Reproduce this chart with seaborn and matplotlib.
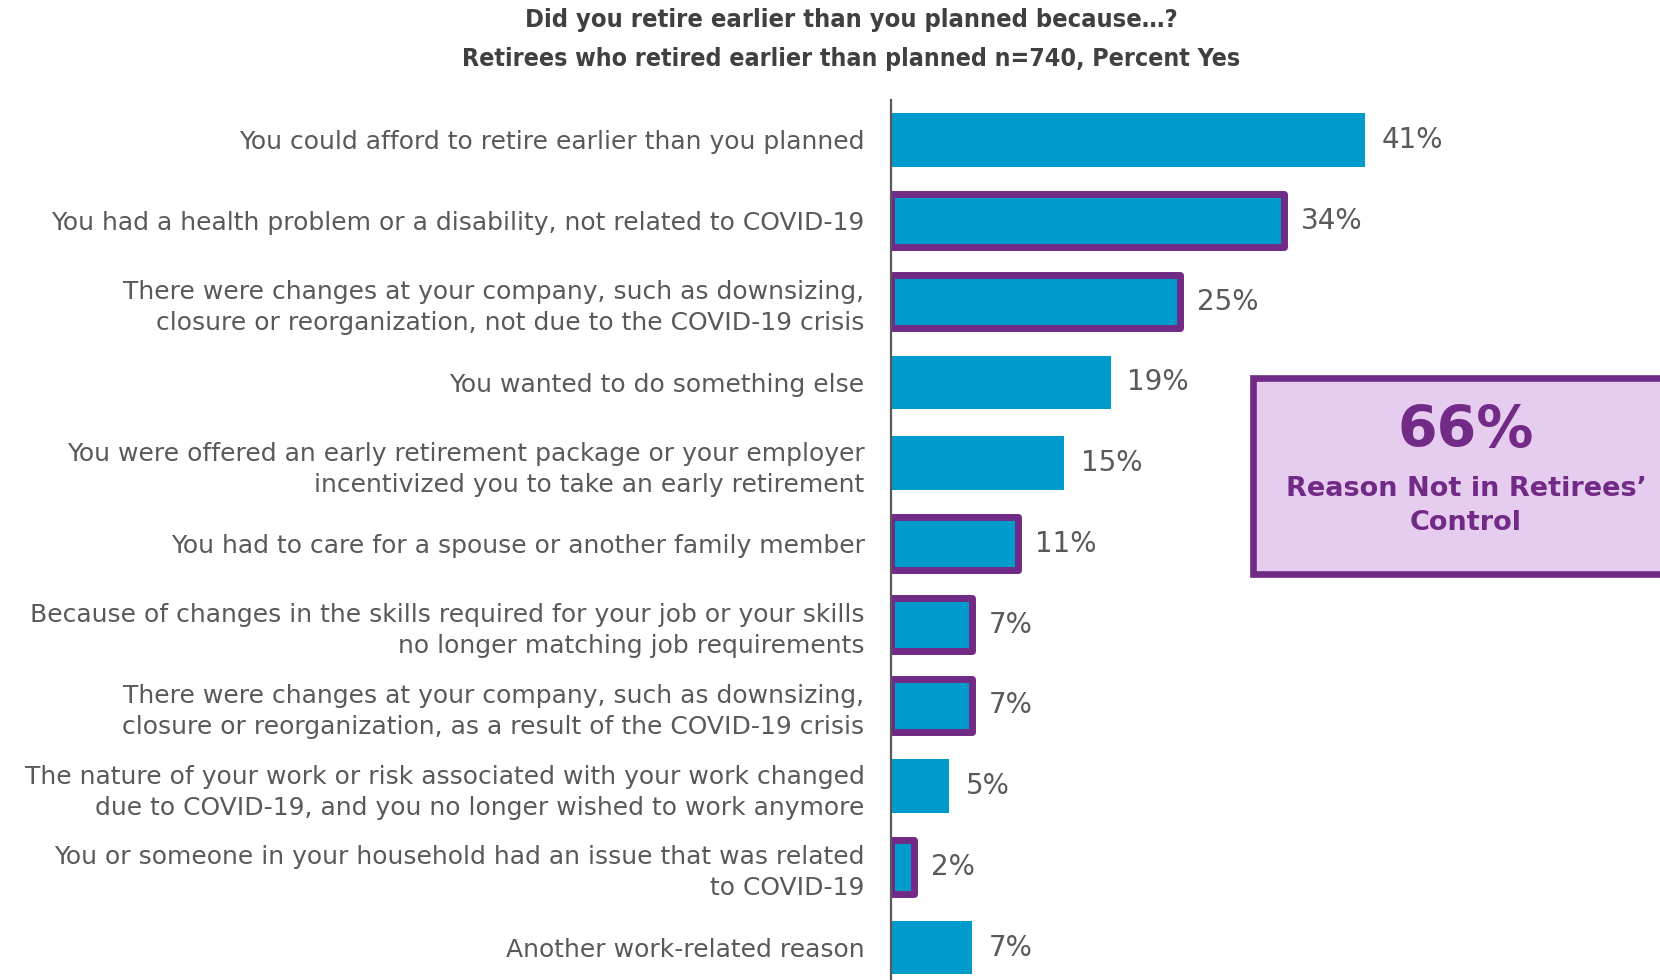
import matplotlib
matplotlib.use("Agg")
import matplotlib.pyplot as plt
import seaborn as sns
import pandas as pd
from matplotlib.patches import Rectangle

reasons = [
    "You could afford to retire earlier than you planned",
    "You had a health problem or a disability, not related to COVID-19",
    "There were changes at your company, such as downsizing,\nclosure or reorganization, not due to the COVID-19 crisis",
    "You wanted to do something else",
    "You were offered an early retirement package or your employer\nincentivized you to take an early retirement",
    "You had to care for a spouse or another family member",
    "Because of changes in the skills required for your job or your skills\nno longer matching job requirements",
    "There were changes at your company, such as downsizing,\nclosure or reorganization, as a result of the COVID-19 crisis",
    "The nature of your work or risk associated with your work changed\ndue to COVID-19, and you no longer wished to work anymore",
    "You or someone in your household had an issue that was related\nto COVID-19",
    "Another work-related reason",
]
percent_yes = [41, 34, 25, 19, 15, 11, 7, 7, 5, 2, 7]
outside_control = [False, True, True, False, False, True, True, True, False, True, False]

callout_value = "66%"
callout_text = "Reason Not in Retirees’\nControl"
title_lines = ["Did you retire earlier than you planned because…?",
               "Retirees who retired earlier than planned n=740, Percent Yes"]

BAR = "#009BCD"
PURPLE = "#722A87"
LILAC = "#E6CCEF"
GREY = "#595959"
TITLE_GREY = "#404040"

sns.set_theme(style="white")
plt.rcParams["font.family"] = ["DejaVu Sans"]

df = pd.DataFrame({"reason": reasons, "pct": percent_yes})

fig = plt.figure(figsize=(16.6, 9.8), dpi=100)
ax = fig.add_axes([891 / 1660, 0.0, 1 - 891 / 1660, 1 - 100 / 980])

sns.barplot(data=df, x="pct", y="reason", orient="h", color=BAR,
            saturation=1, width=0.66, ax=ax)

for patch, flag in zip(ax.patches, outside_control):
    patch.set_edgecolor(PURPLE if flag else BAR)
    patch.set_linewidth(5.0 if flag else 0)
    patch.set_joinstyle("round")

ax.set_xlim(0, 66.5)
ax.set_ylim(10.4, -0.495)
ax.set_xlabel("")
ax.set_ylabel("")
ax.set_xticks([])
for side in ["top", "right", "bottom"]:
    ax.spines[side].set_visible(False)
ax.spines["left"].set_color(GREY)
ax.spines["left"].set_linewidth(1.6)

ax.tick_params(axis="y", length=0, pad=19, labelsize=18.0, labelcolor=GREY)
for lbl in ax.get_yticklabels():
    lbl.set_horizontalalignment("right")
    lbl.set_multialignment("right")
    lbl.set_linespacing(1.37)

ax.bar_label(ax.containers[0], labels=[f"{v}%" for v in percent_yes],
             padding=12, fontsize=20, color=GREY)

# Title
for text, ypix, size in zip(title_lines, [20, 59], [18.3, 17.9]):
    fig.text(851 / 1660, 1 - ypix / 980, text, ha="center", va="center",
             fontsize=size, fontweight="bold", fontstretch="condensed",
             color=TITLE_GREY)

# Callout box
box = Rectangle((1253 / 1660, 1 - 574 / 980), 0.3, (574 - 378) / 980,
                transform=fig.transFigure, facecolor=LILAC, edgecolor=PURPLE,
                linewidth=4.8, clip_on=False, zorder=5)
fig.patches.append(box)
fig.text(1466 / 1660, 1 - 432 / 980, callout_value, ha="center", va="center",
         fontsize=41, fontweight="bold", color=PURPLE, zorder=6)
fig.text(1466 / 1660, 1 - 506 / 980, callout_text, ha="center", va="center",
         fontsize=19.5, fontweight="bold", color=PURPLE, linespacing=1.4,
         zorder=6)

fig.savefig("out.png", dpi=100)
